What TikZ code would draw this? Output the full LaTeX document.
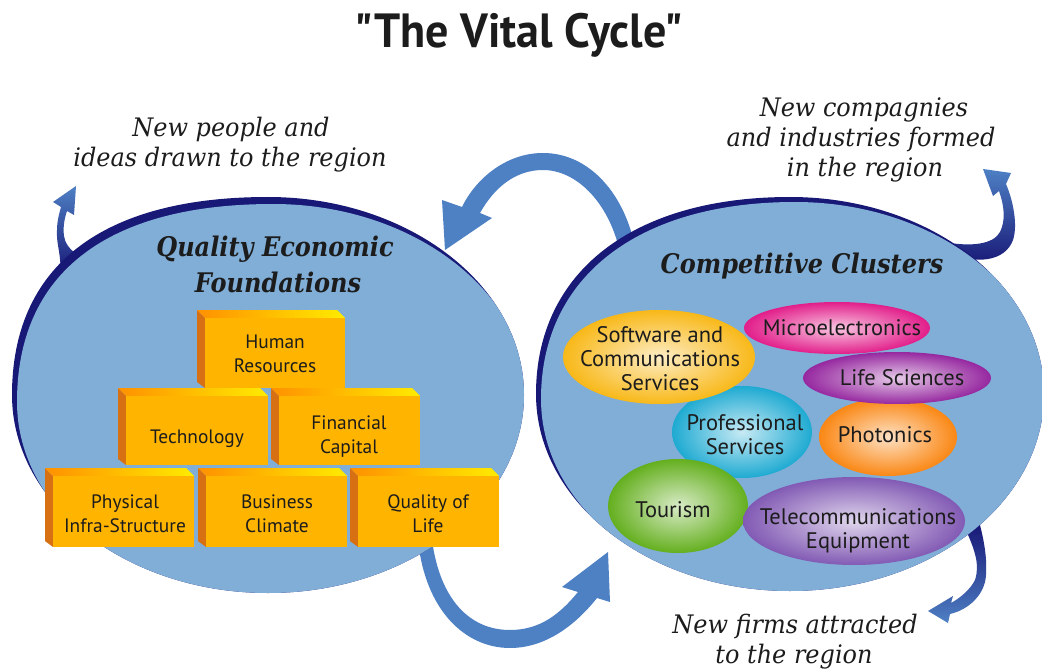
\documentclass[tikz,border=0pt]{standalone}
\usepackage{fontspec}
\usetikzlibrary{shapes.geometric}
\newfontfamily\titlefont{PT Sans}[FakeStretch=0.96]
\newfontfamily\labfont{DejaVu Serif}[FakeStretch=0.94]
\newfontfamily\hdfont{DejaVu Serif}[FakeStretch=0.89]
\newfontfamily\clfont{PT Sans}
\newfontfamily\blkfont{PT Sans}
\definecolor{bgblue}{RGB}{128,174,215}
\definecolor{navyb}{RGB}{24,24,118}
\definecolor{arrowblue}{RGB}{78,128,196}
\definecolor{blkfront}{RGB}{255,180,0}
\definecolor{blkside}{RGB}{214,112,18}
\definecolor{blktopl}{RGB}{255,145,0}
\definecolor{blktopr}{RGB}{255,235,0}
\definecolor{txt}{RGB}{28,28,28}
\definecolor{softc}{RGB}{248,184,24}
\definecolor{microc}{RGB}{226,30,138}
\definecolor{lifec}{RGB}{150,40,160}
\definecolor{profc}{RGB}{30,170,210}
\definecolor{photc}{RGB}{250,135,20}
\definecolor{tourc}{RGB}{100,175,30}
\definecolor{telec}{RGB}{130,90,180}
\newcommand\fblock[5]{%
  \fill[blkside] (#2,#3) -- (#2+8,#3+8) -- (#2+8,#5) -- (#2,#5-6) -- cycle;
  \shade[left color=blktopl, right color=blktopr] (#2,#3) -- (#4-8,#3) -- (#4,#3+8) -- (#2+8,#3+8) -- cycle;
  \node[blockface, minimum width={#4-#2-8}, minimum height={#5-#3-8}] (#1) at ({(#2+8+#4)/2},{(#3+8+#5)/2}) {};
}
\begin{document}
\begin{tikzpicture}[x=1pt,y=-1pt,
  leftblob/.style={insert path={(524,395) .. controls (524,504) and (409,593) .. (268,593) .. controls (127,593) and (12,504) .. (12,395) .. controls (12,266) and (102,197) .. (268,197) .. controls (409,197) and (524,286) .. (524,395) -- cycle}},
  rightblob/.style={insert path={(1044,394) .. controls (1044,503) and (930,591) .. (790,591) .. controls (650,591) and (536,503) .. (536,394) .. controls (536,272) and (633,197) .. (790,197) .. controls (930,197) and (1044,285) .. (1044,394) -- cycle}},
  blockface/.style={rectangle, fill=blkfront, inner sep=0pt},
  cl/.style={ellipse, inner sep=0pt, inner color=#1!25!white, outer color=#1},
  lab/.style={anchor=base, inner sep=0pt, text=txt, font=\labfont\itshape\fontsize{25.5}{30}\selectfont},
  hd/.style={anchor=base, inner sep=0pt, text=txt, font=\hdfont\bfseries\itshape\fontsize{27}{33}\selectfont},
  bt/.style={inner sep=0pt, align=center, text=txt, font=\blkfont\fontsize{19.4}{24}\selectfont},
  ct/.style={inner sep=0pt, align=center, text=txt, font=\clfont\fontsize{22.5}{24}\selectfont}
]
\useasboundingbox (0,0) rectangle (1042,671);
\fill[white] (0,0) rectangle (1042,671);

% ---- ribbon arrows (behind the ellipses)
\coordinate (topS) at (628,250);
\coordinate (topT) at (445,250);
\fill[arrowblue] (636,252) .. controls (626,195) and (590,153) .. (543,153)
  .. controls (505,153) and (475,180) .. (462,207) -- (442,200) -- (topT) -- (492,218) -- (480,213)
  .. controls (494,188) and (515,170) .. (543,170) .. controls (575,170) and (608,200) .. (620,252) -- cycle;
\coordinate (botS) at (425,540);
\coordinate (botT) at (608,552);
\fill[arrowblue] (418,540) .. controls (425,610) and (465,648) .. (510,648)
  .. controls (548,648) and (578,622) .. (597,598) -- (610,602) -- (botT) -- (562,587) -- (578,592)
  .. controls (560,614) and (540,630) .. (510,630) .. controls (470,630) and (440,600) .. (432,540) -- cycle;
\coordinate (ulT) at (76,186);
\shade[top color=arrowblue, bottom color=navyb] (60,275) .. controls (62,255) and (56,245) .. (57,230)
  .. controls (57,222) and (59,214) .. (61,207) -- (53,202) -- (ulT) -- (74,215) -- (67,211)
  .. controls (64,220) and (63,228) .. (64,236) .. controls (66,250) and (80,258) .. (98,264) -- cycle;
\coordinate (urT) at (983,169);
\shade[top color=arrowblue, bottom color=navyb] (945,252) .. controls (975,265) and (1005,262) .. (1013,240)
  .. controls (1018,225) and (1013,200) .. (1006,184) -- (1011,173) -- (urT) -- (993,196) -- (999,191)
  .. controls (1004,205) and (1006,220) .. (1000,232) .. controls (993,245) and (970,246) .. (950,243) -- cycle;
\coordinate (brT) at (928,611);
\shade[top color=navyb, bottom color=arrowblue] (965,528) .. controls (975,550) and (980,565) .. (975,580)
  .. controls (970,590) and (960,598) .. (951,603) -- (953,596) -- (brT) -- (948,623) -- (950,614)
  .. controls (968,610) and (985,595) .. (986,575) .. controls (987,560) and (985,545) .. (980,525) -- cycle;

% ---- the two big ellipses
\fill[navyb, leftblob];
\begin{scope}
  \clip[leftblob];
  \fill[bgblue, shift={(5,7)}, leftblob];
\end{scope}
\fill[navyb, rightblob];
\begin{scope}
  \clip[rightblob];
  \fill[bgblue, shift={(5,5)}, rightblob];
\end{scope}

% ---- foundation blocks
\fblock{bphys}{45}{468}{194}{547}
\fblock{bbus}{198}{468}{347}{547}
\fblock{bqol}{350}{468}{499}{547}
\fblock{btech}{118}{388}{268}{465}
\fblock{bfin}{271}{388}{420}{465}
\fblock{bhr}{197}{310}{345}{388}
\node[bt] (thr) at (275,353.5) {Human\\Resources};
\node[bt] (ttech) at (197,438.5) {Technology};
\node[bt] (tfin) at (349,436.5) {Financial\\Capital};
\node[bt] (tphys) at (125,513.5) {Physical\\Infra-Structure};
\node[bt] (tbus) at (277,513.5) {Business\\Climate};
\node[bt] (tqol) at (428,513.5) {Quality of\\Life};

% ---- clusters
\node[cl=profc, minimum width=140, minimum height=92] (cprof) at (742,432) {};
\node[cl=photc, minimum width=138, minimum height=78] (cphot) at (888,437) {};
\node[cl=softc, minimum width=192, minimum height=94] (csoft) at (659,357) {};
\node[cl=microc, minimum width=186, minimum height=52] (cmicro) at (837,328) {};
\node[cl=lifec, minimum width=188, minimum height=52] (clife) at (897,378) {};
\node[cl=tourc, minimum width=140, minimum height=94] (ctour) at (678,506) {};
\node[cl=telec, minimum width=222, minimum height=88] (ctele) at (854,521) {};
\node[ct] (lsoft) at (660,359) {Software and\\Communications\\Services};
\node[ct] (lmicro) at (842,327.5) {Microelectronics};
\node[ct] (llife) at (902,377.5) {Life Sciences};
\node[ct] (lprof) at (745,435) {Professional\\Services};
\node[ct] (lphot) at (885,434.5) {Photonics};
\node[ct] (ltour) at (673,509.5) {Tourism};
\node[ct] (ltele) at (858,530.5) {Telecommunications\\Equipment};

% ---- headings and labels
\node[hd] (hq1) at (275,257) {Quality Economic};
\node[hd] (hq2) at (278,292) {Foundations};
\node[hd] (hc) at (802,273) {Competitive Clusters};
\node[lab] (p1) at (231,137) {New people and};
\node[lab] (p2) at (230,167) {ideas drawn to the region};
\node[lab] (n1) at (864,117) {New compagnies};
\node[lab] (n2) at (861,147) {and industries formed};
\node[lab] (n3) at (865,177) {in the region};
\node[lab] (f1) at (795,633) {New firms attracted};
\node[lab] (f2) at (794,663) {to the region};
\node[anchor=base, inner sep=0pt, text=txt, font=\titlefont\bfseries\fontsize{48}{52}\selectfont] (title) at (519,48) {"The Vital Cycle"};
\end{tikzpicture}
\end{document}
